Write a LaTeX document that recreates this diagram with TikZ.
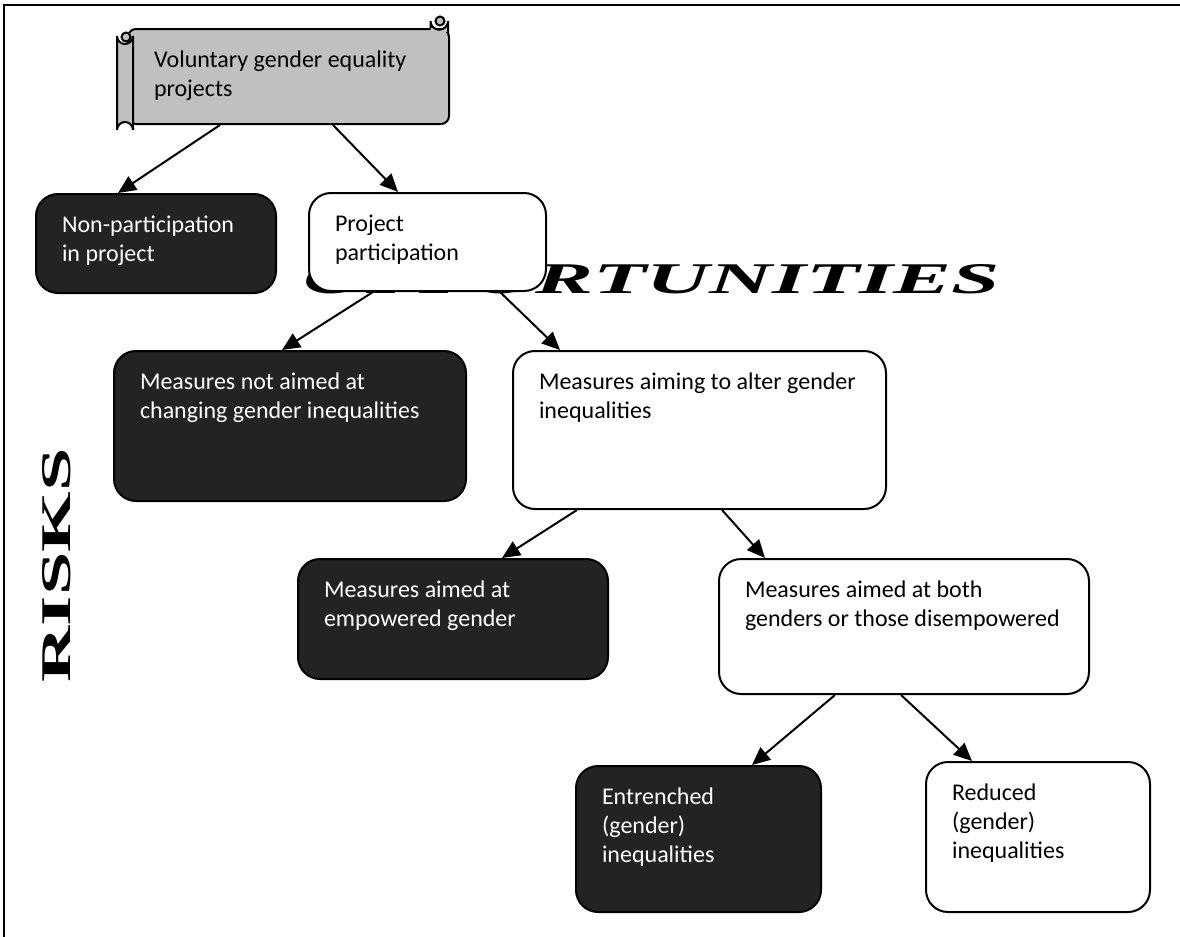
\documentclass[tikz,border=0pt]{standalone}
\usepackage{fontspec}
\setmainfont{Carlito}
\newfontfamily\serifbf{Liberation Serif}
\usetikzlibrary{arrows.meta,calc}
\definecolor{darkbox}{HTML}{232323}
\definecolor{scrollgray}{HTML}{C0C0C0}
\tikzset{
  basebox/.style={draw=black, line width=1pt, rounded corners=11pt, anchor=north west, inner xsep=13pt, inner ysep=8.8pt, align=left},
  darkstyle/.style={basebox, fill=darkbox, text=white},
  lightstyle/.style={basebox, fill=white, text=black},
  scrollstyle/.style={basebox, fill=scrollgray, text=black, rounded corners=4pt},
  rolls/.style={line width=1pt, fill=scrollgray, draw=black},
  arr/.style={line width=1pt, -{Triangle[length=9pt,width=8pt]}},
}
% #1 width (px), #2 height (px), #3 lines
\newcommand\boxtxt[3]{\parbox[t][\dimexpr #2pt/2-17.6pt\relax][t]{\dimexpr #1pt/2-26pt\relax}{\fontsize{12}{14.6}\selectfont\begin{tabular}[t]{@{}l@{}}#3\end{tabular}}}
\begin{document}
\begin{tikzpicture}[x=0.5pt,y=-0.5pt]
\useasboundingbox (0,0) rectangle (1180,937);
% frame
\draw[line width=1pt] (4,937) -- (4,5) -- (1180,5);
% big words
\node[anchor=base east, inner sep=0] (opp) at (1000,293) {\resizebox{348pt}{14.5pt}{\serifbf\bfseries\itshape OPPORTUNITIES}};
\node[anchor=base east, rotate=90, inner sep=0] (risks) at (70,448) {\resizebox{117pt}{14pt}{\serifbf\bfseries RISKS}};
% scroll
\node[scrollstyle] (scroll) at (127,28) {\boxtxt{321}{95}{Voluntary gender equality\\projects}};
\fill[scrollgray] (430.5,32) -- (430.5,21) arc (180:0:8.75) -- (448,32) -- cycle;
\draw[line width=1pt] (430.5,28) -- (430.5,21) arc (180:0:8.75) -- (448,34);
\filldraw[rolls] (440,21) circle (4.5);
\filldraw[rolls] (117,38) -- (117,130) arc (180:360:8) -- (133,36) arc (0:180:8) -- cycle;
\filldraw[rolls] (126,37) circle (4.5);
% boxes
\node[darkstyle] (nonpart) at (35,193) {\boxtxt{240}{99}{Non-participation\\in project}};
\node[lightstyle] (proj) at (308,192) {\boxtxt{237}{98}{Project\\participation}};
\node[darkstyle] (m1) at (113,350) {\boxtxt{352}{150}{Measures not aimed at\\changing gender inequalities}};
\node[lightstyle] (m2) at (512,350) {\boxtxt{373}{158}{Measures aiming to alter gender\\inequalities}};
\node[darkstyle] (m3) at (297,558) {\boxtxt{310}{120}{Measures aimed at\\empowered gender}};
\node[lightstyle] (m4) at (718,558) {\boxtxt{370}{135}{Measures aimed at both\\genders or those disempowered}};
\node[darkstyle] (e1) at (575,765) {\boxtxt{245}{146}{Entrenched\\(gender)\\inequalities}};
\node[lightstyle] (e2) at (925,761) {\boxtxt{224}{150}{Reduced\\(gender)\\inequalities}};
% arrows
\draw[arr] ($(scroll.south west)+(93,0)$) -- ($(nonpart.north west)+(83,0)$);
\draw[arr] ($(scroll.south west)+(206,0)$) -- ($(proj.north west)+(90,0)$);
\draw[arr] ($(proj.south west)+(65,0)$) -- ($(m1.north west)+(169,0)$);
\draw[arr] ($(proj.south west)+(192,0)$) -- ($(m2.north west)+(48,0)$);
\draw[arr] ($(m2.south west)+(65,0)$) -- ($(m3.north west)+(205,0)$);
\draw[arr] ($(m2.south west)+(210,0)$) -- ($(m4.north west)+(47,0)$);
\draw[arr] ($(m4.south west)+(117,0)$) -- ($(e1.north west)+(177,0)$);
\draw[arr] ($(m4.south west)+(183,0)$) -- ($(e2.north west)+(47,0)$);
\end{tikzpicture}
\end{document}
